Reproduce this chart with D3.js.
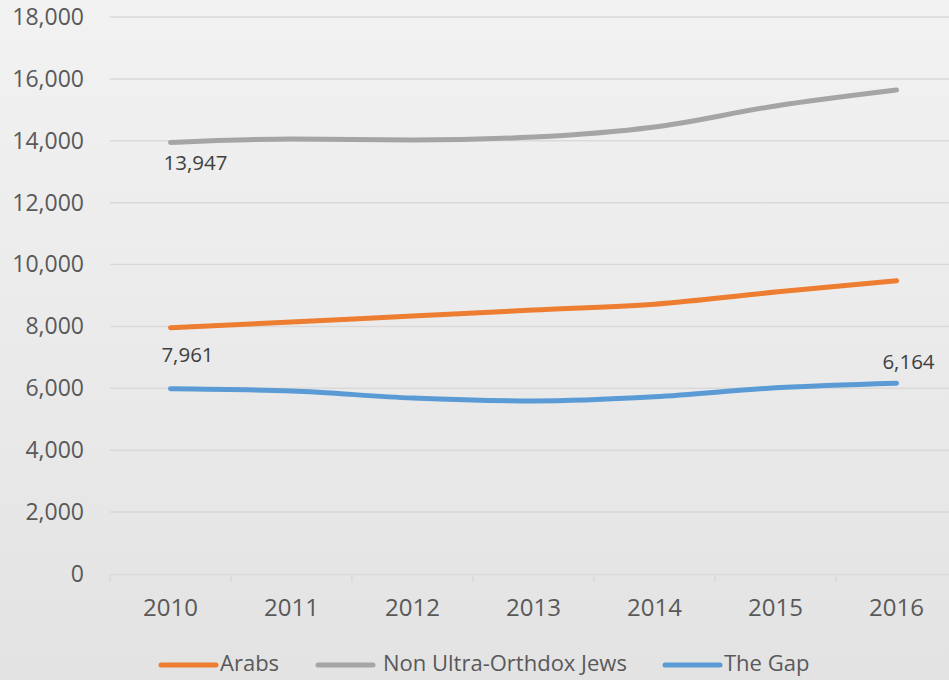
<!DOCTYPE html>
<html>
<head>
<meta charset="utf-8">
<script src="https://cdn.jsdelivr.net/npm/d3@7"></script>
<style>
  body { margin: 0; background: #fff; }
  svg { display: block; }
</style>
</head>
<body>
<div id="chart"></div>
<script>
const years = ['2010', '2011', '2012', '2013', '2014', '2015', '2016'];
const arabs = [7961, 8140, 8340, 8530, 8720, 9110, 9476];
const nonUltraOrthodox = [13947, 14055, 14025, 14120, 14445, 15125, 15640];
const theGap = [5986, 5915, 5685, 5590, 5725, 6015, 6164];
const yTicks = [0, 2000, 4000, 6000, 8000, 10000, 12000, 14000, 16000, 18000];

const width = 949, height = 680;
const margin = { top: 17, right: -8, bottom: 106, left: 110 };

const series = [
  { name: 'Arabs', values: arabs, color: '#ed7d31' },
  { name: 'Non Ultra-Orthdox Jews', values: nonUltraOrthodox, color: '#a5a5a5' },
  { name: 'The Gap', values: theGap, color: '#5b9bd5' }
];

const svg = d3.select('#chart').append('svg')
  .attr('width', width)
  .attr('height', height)
  .style('font-family', "'Open Sans', 'Liberation Sans', sans-serif");

// background gradient
const grad = svg.append('defs').append('linearGradient')
  .attr('id', 'bg').attr('x1', 0).attr('y1', 0).attr('x2', 0).attr('y2', 1);
grad.append('stop').attr('offset', '0%').attr('stop-color', '#f2f2f2');
grad.append('stop').attr('offset', '100%').attr('stop-color', '#e3e3e3');
svg.append('rect').attr('width', width).attr('height', height).attr('fill', 'url(#bg)');

const x = d3.scaleBand()
  .domain(years)
  .range([margin.left, width - margin.right]);

const y = d3.scaleLinear()
  .domain([0, 18000])
  .range([height - margin.bottom, margin.top]);

const fmt = d3.format(',');

// grid
svg.append('g')
  .selectAll('line')
  .data(yTicks.filter(d => d > 0))
  .join('line')
  .attr('x1', margin.left)
  .attr('x2', width)
  .attr('y1', d => y(d))
  .attr('y2', d => y(d))
  .attr('stroke', '#d9d9d9')
  .attr('stroke-width', 1.5);

// y axis labels
svg.append('g')
  .attr('transform', `translate(${margin.left}, 0)`)
  .call(d3.axisLeft(y).tickValues(yTicks).tickFormat(fmt).tickSize(0).tickPadding(26))
  .call(g => g.select('.domain').remove())
  .selectAll('text')
  .style('font-size', '23px')
  .style('font-family', "'Open Sans', 'Liberation Sans', sans-serif")
  .attr('fill', '#595959');

// x axis
const xAxis = svg.append('g')
  .attr('transform', `translate(0, ${y(0)})`)
  .call(d3.axisBottom(x).tickSize(0).tickPadding(25));
xAxis.select('.domain').attr('stroke', '#d9d9d9').attr('stroke-width', 1.5);
xAxis.selectAll('text')
  .style('font-size', '24px')
  .style('font-family', "'Open Sans', 'Liberation Sans', sans-serif")
  .attr('fill', '#595959');
xAxis.append('g')
  .selectAll('line')
  .data(years)
  .join('line')
  .attr('x1', d => x(d))
  .attr('x2', d => x(d))
  .attr('y1', 0)
  .attr('y2', 8)
  .attr('stroke', '#d9d9d9')
  .attr('stroke-width', 1.5);

// lines
const line = d3.line()
  .x((d, i) => x(years[i]) + x.bandwidth() / 2)
  .y(d => y(d))
  .curve(d3.curveMonotoneX);

svg.append('g')
  .selectAll('path')
  .data(series)
  .join('path')
  .attr('d', d => line(d.values))
  .attr('fill', 'none')
  .attr('stroke', d => d.color)
  .attr('stroke-width', 5)
  .attr('stroke-linecap', 'round')
  .attr('stroke-linejoin', 'round');

// data labels
const labels = [
  { s: nonUltraOrthodox, i: 0, dx: 25, dy: 22 },
  { s: arabs, i: 0, dx: 17, dy: 29 },
  { s: theGap, i: 6, dx: 12, dy: -20 }
];
svg.append('g')
  .selectAll('text')
  .data(labels)
  .join('text')
  .attr('x', d => x(years[d.i]) + x.bandwidth() / 2 + d.dx)
  .attr('y', d => y(d.s[d.i]) + d.dy)
  .attr('text-anchor', 'middle')
  .attr('dominant-baseline', 'middle')
  .style('font-size', '20.5px')
  .attr('fill', '#404040')
  .text(d => fmt(d.s[d.i]));

// legend
const legendX = [161, 318, 665];
const leg = svg.append('g')
  .selectAll('g')
  .data(series)
  .join('g')
  .attr('transform', (d, i) => `translate(${legendX[i]}, 665)`);
leg.append('line')
  .attr('x1', 0).attr('x2', 55)
  .attr('stroke', d => d.color)
  .attr('stroke-width', 5)
  .attr('stroke-linecap', 'round');
leg.append('text')
  .attr('x', (d, i) => i === 1 ? 65 : 59)
  .attr('dominant-baseline', 'middle')
  .style('font-size', '22px')
  .attr('fill', '#595959')
  .text(d => d.name);
</script>
</body>
</html>
